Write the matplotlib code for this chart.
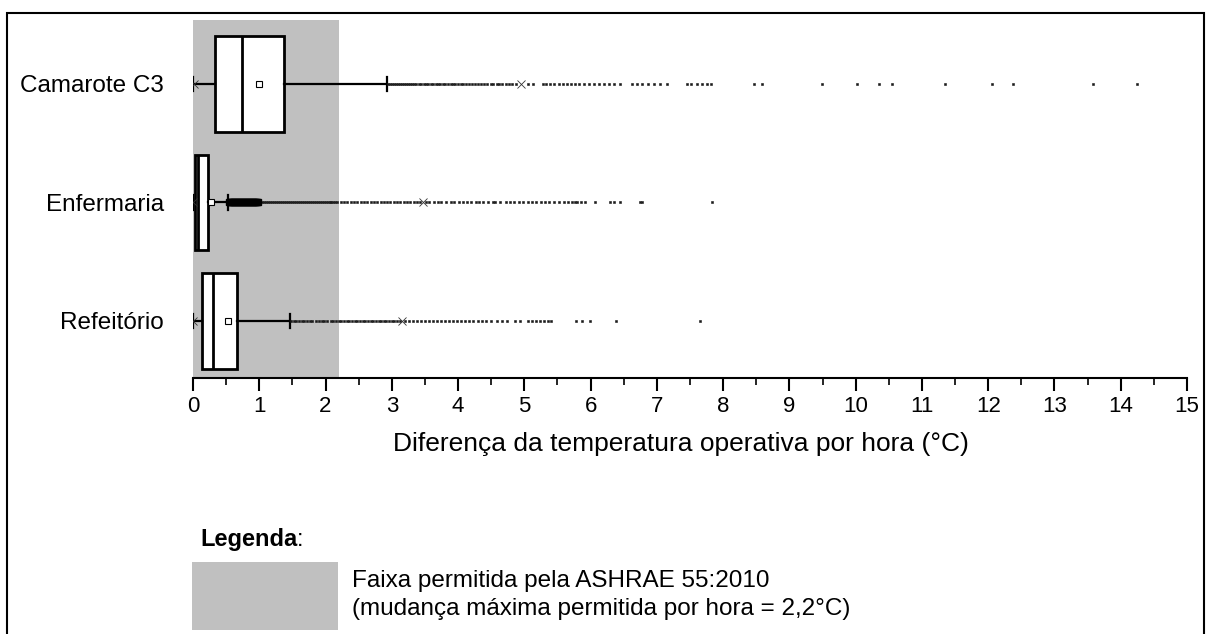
import matplotlib
matplotlib.use("Agg")
import matplotlib.pyplot as plt
from matplotlib.patches import Rectangle

plt.rcParams['font.family'] = ['Liberation Sans', 'DejaVu Sans']

categories = ["Camarote C3", "Enfermaria", "Refeitório"]
positions = [3, 2, 1]
q1 = [0.33, 0.03, 0.14]
median = [0.74, 0.08, 0.30]
q3 = [1.37, 0.22, 0.66]
mean = [1.00, 0.27, 0.53]
whis_lo = [0.0, 0.0, 0.0]
whis_hi = [2.93, 0.53, 1.46]
p99 = [4.95, 3.47, 3.15]
p1 = [0.02, 0.0, 0.0]

out_camarote = [2.95, 2.98, 3.01, 3.04, 3.07, 3.10, 3.13, 3.16, 3.19, 3.22, 3.25, 3.28,
                3.31, 3.34, 3.37, 3.41, 3.44, 3.48, 3.52, 3.55, 3.59, 3.62, 3.66, 3.70,
                3.73, 3.77, 3.81, 3.85, 3.89, 3.92, 3.96, 4.00, 4.04, 4.08, 4.12, 4.17,
                4.21, 4.26, 4.30, 4.35, 4.39, 4.44, 4.49, 4.53, 4.58, 4.62, 4.67, 4.72,
                4.77, 4.82, 4.87, 5.06, 5.13, 5.28, 5.33, 5.38, 5.45, 5.52, 5.58, 5.64,
                5.70, 5.76, 5.83, 5.90, 5.97, 6.05, 6.12, 6.20, 6.28, 6.35, 6.45, 6.62,
                6.70, 6.78, 6.86, 6.95, 7.05, 7.15, 7.45, 7.52, 7.60, 7.68, 7.75, 7.82,
                8.47, 8.59, 9.49, 10.02, 10.35, 10.55, 11.35, 12.06, 12.38, 13.58, 14.24]
out_enfermaria = [0.54, 0.555, 0.57, 0.585, 0.60, 0.615, 0.63, 0.645, 0.66, 0.675,
                  0.69, 0.705, 0.72, 0.735, 0.75, 0.765, 0.78, 0.795, 0.81, 0.825,
                  0.84, 0.855, 0.87, 0.885, 0.90, 0.915, 0.93, 0.945, 0.96, 0.98,
                  1.01, 1.04, 1.07, 1.10, 1.13, 1.16, 1.19, 1.22, 1.25, 1.28, 1.31,
                  1.34, 1.37, 1.40, 1.43, 1.46, 1.49, 1.52, 1.55, 1.58, 1.61, 1.64,
                  1.67, 1.70, 1.73, 1.76, 1.79, 1.82, 1.85, 1.88, 1.91, 1.94, 1.97,
                  2.00, 2.03, 2.06, 2.09, 2.12, 2.15, 2.18, 2.23, 2.28, 2.33, 2.38,
                  2.43, 2.48, 2.53, 2.58, 2.63, 2.68, 2.73, 2.78, 2.83, 2.88, 2.93,
                  2.98, 3.03, 3.08, 3.13, 3.18, 3.23, 3.28, 3.33, 3.38, 3.43, 3.52,
                  3.56, 3.63, 3.70, 3.74, 3.82, 3.90, 3.94, 4.02, 4.08, 4.13, 4.19,
                  4.27, 4.31, 4.38, 4.45, 4.52, 4.56, 4.63, 4.72, 4.78, 4.85, 4.92,
                  4.98, 5.05, 5.12, 5.18, 5.25, 5.31, 5.37, 5.45, 5.52, 5.60, 5.66,
                  5.72, 5.76, 5.80, 5.86, 5.92, 6.07, 6.29, 6.35, 6.44, 6.74, 6.78, 7.83]
out_refeitorio = [1.48, 1.52, 1.56, 1.60, 1.64, 1.68, 1.72, 1.76, 1.80, 1.86, 1.90,
                  1.94, 1.98, 2.02, 2.08, 2.12, 2.16, 2.20, 2.24, 2.28, 2.32, 2.36,
                  2.40, 2.44, 2.48, 2.52, 2.56, 2.60, 2.64, 2.68, 2.72, 2.76, 2.80,
                  2.84, 2.88, 2.92, 2.96, 3.00, 3.04, 3.08, 3.12, 3.20, 3.26, 3.32,
                  3.38, 3.44, 3.50, 3.56, 3.62, 3.68, 3.74, 3.80, 3.86, 3.92, 3.98,
                  4.04, 4.10, 4.16, 4.22, 4.30, 4.36, 4.42, 4.50, 4.58, 4.66, 4.74,
                  4.86, 4.94, 5.06, 5.12, 5.18, 5.24, 5.30, 5.36, 5.40, 5.78, 5.87,
                  5.99, 6.38, 7.65]
outliers = [out_camarote, out_enfermaria, out_refeitorio]
dense_limit_enfermaria = 1.0

xticks = list(range(0, 16))
xlabel = "Diferença da temperatura operativa por hora (°C)"
band_limit = 2.2
legend_title = "Legenda"
legend_line1 = "Faixa permitida pela ASHRAE 55:2010"
legend_line2 = "(mudança máxima permitida por hora = 2,2°C)"

W, H = 1207, 634
fig = plt.figure(figsize=(W / 100, H / 100), dpi=100)

def fx(px):
    return px / W

def fy(py):
    return 1 - py / H

ax = fig.add_axes([fx(193), fy(378), fx(1187) - fx(193), fy(20) - fy(378)])
ax.set_xlim(0, 15)
ax.set_ylim(0.519, 3.54)

gray = '#c0c0c0'
ax.axvspan(0, band_limit, color=gray, zorder=0, lw=0)

stats = []
for i in range(3):
    stats.append(dict(med=median[i], q1=q1[i], q3=q3[i], whislo=whis_lo[i],
                      whishi=whis_hi[i], mean=mean[i], fliers=outliers[i],
                      label=categories[i]))

ax.bxp(stats, positions=positions, orientation='horizontal', widths=0.81,
       showmeans=True, showfliers=True, patch_artist=True, capwidths=0.12,
       boxprops=dict(facecolor='white', edgecolor='black', linewidth=2),
       medianprops=dict(color='black', linewidth=2),
       whiskerprops=dict(color='black', linewidth=1.6),
       capprops=dict(color='black', linewidth=1.6),
       meanprops=dict(marker='s', markerfacecolor='white', markeredgecolor='black',
                      markersize=4.5, markeredgewidth=0.8),
       flierprops=dict(marker='s', markerfacecolor='#1a1a1a', markeredgecolor='#1a1a1a',
                       markersize=1.9, markeredgewidth=0.4, linestyle='none'))

# dense cluster of Enfermaria outliers drawn heavier (overlapping points in the original)
dense_enf = [v for v in out_enfermaria if v < dense_limit_enfermaria]
ax.plot(dense_enf, [positions[1]] * len(dense_enf), linestyle='none', marker='s',
        color='black', markersize=4.5, zorder=4)

ax.plot(p99, positions, linestyle='none', marker='x', color='#333333', markersize=5.5,
        markeredgewidth=0.6, zorder=5)
ax.plot(p1, positions, linestyle='none', marker='x', color='#333333', markersize=5.5,
        markeredgewidth=0.6, zorder=5)

for s in ['top', 'right', 'left']:
    ax.spines[s].set_visible(False)
ax.spines['bottom'].set_linewidth(1.5)
ax.set_xticks(xticks)
ax.set_xticklabels([str(t) for t in xticks], fontsize=16)
ax.set_xticks([t + 0.5 for t in xticks[:-1]], minor=True)
ax.tick_params(axis='x', which='major', length=9, width=1.5, direction='out', pad=4)
ax.tick_params(axis='x', which='minor', length=5, width=1.2, direction='out')
ax.tick_params(axis='y', length=0, pad=21, labelsize=17.5)
ax.set_yticks(positions)
ax.set_yticklabels(categories)

fig.text(fx(681), fy(444), xlabel, ha='center', va='center', fontsize=19)

t_title = fig.text(fx(200), fy(546), legend_title, ha='left', va='baseline',
                   fontsize=17, fontweight='bold')
fig.canvas.draw()
bb = t_title.get_window_extent(renderer=fig.canvas.get_renderer())
fig.text(bb.x1 / W, fy(546), ":", ha='left', va='baseline', fontsize=17)

fig.patches.append(Rectangle((fx(192), fy(630)), fx(338) - fx(192), fy(562) - fy(630),
                             transform=fig.transFigure, facecolor=gray, edgecolor='none'))
fig.text(fx(352), fy(587), legend_line1, ha='left', va='baseline', fontsize=17.5)
fig.text(fx(352), fy(615), legend_line2, ha='left', va='baseline', fontsize=17.5)

fig.patches.append(Rectangle((fx(7), fy(660)), fx(1204) - fx(7), fy(13) - fy(660),
                             transform=fig.transFigure, facecolor='none',
                             edgecolor='black', linewidth=1.5, clip_on=False))

fig.savefig("out.png", dpi=100)
